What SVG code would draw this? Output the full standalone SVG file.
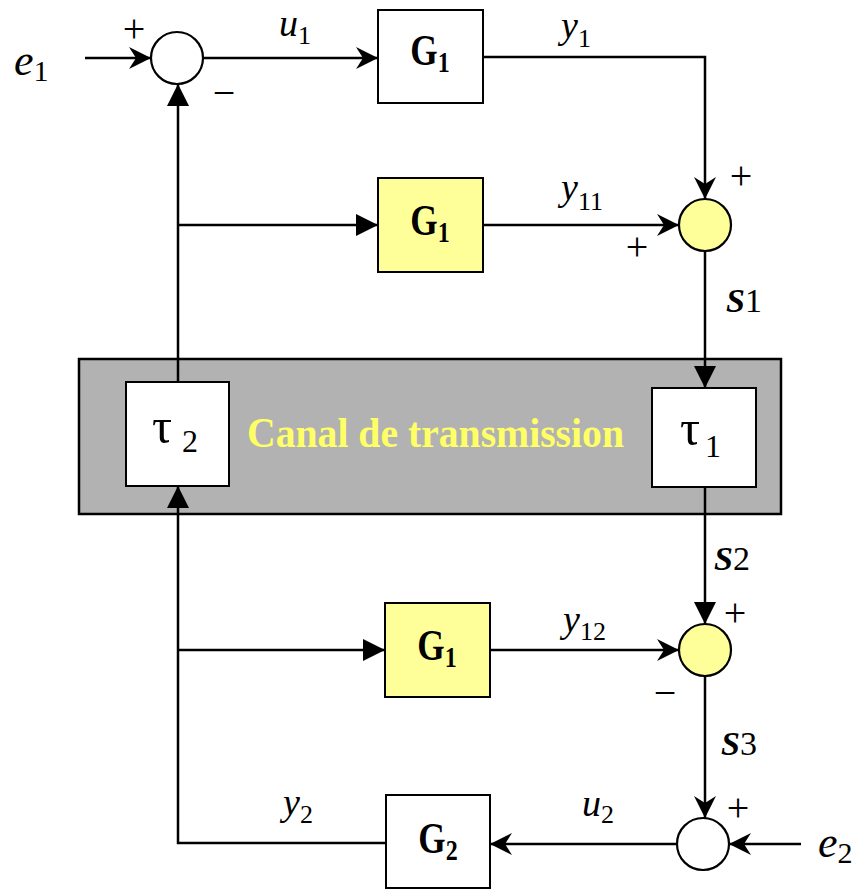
<svg xmlns="http://www.w3.org/2000/svg" width="852" height="890" viewBox="0 0 852 890">
<style>
.box{fill:#fff;stroke:#000;stroke-width:2}
.ybox{fill:#FFFF99;stroke:#000;stroke-width:2}
.sum{fill:#fff;stroke:#000;stroke-width:2.2}
.ysum{fill:#FFFF99;stroke:#000;stroke-width:2.2}
.wire{fill:none;stroke:#000;stroke-width:2.5}
.g{font-family:'Liberation Serif',serif;font-weight:bold;font-size:44px;fill:#000}
.gs{font-size:30px}
.v{font-family:'Liberation Serif',serif;font-style:italic;font-size:38px;fill:#000}
.vs{font-style:normal;font-size:26px}
.e{font-size:44px}
.es{font-style:normal;font-size:30px}
.s{font-family:'Liberation Serif',serif;font-style:italic;font-weight:bold;font-size:34px;fill:#000}
.ss{font-style:normal;font-weight:normal}
.sign{font-family:'Liberation Serif',serif;font-size:40px;fill:#000;text-anchor:middle}
.tau{font-family:'Liberation Serif',serif;font-size:50px;fill:#000}
.taus{font-size:32px}
.canal{font-family:'Liberation Serif',serif;font-weight:bold;font-size:43px;fill:#FFFF66}
</style>
<defs>
<marker id="st" viewBox="-24 -12 26 24" markerWidth="26" markerHeight="24" refX="0" refY="0" orient="auto" markerUnits="userSpaceOnUse">
<path d="M0,0 L-22,-11 L-15,0 L-22,11 Z" fill="#000"/>
</marker>
<marker id="tri" viewBox="-24 -12 26 24" markerWidth="26" markerHeight="24" refX="0" refY="0" orient="auto" markerUnits="userSpaceOnUse">
<path d="M0,0 L-22,-11 L-22,11 Z" fill="#000"/>
</marker>
</defs>

<g id="channel">
<rect x="79" y="359" width="702" height="155" fill="#B2B2B2" stroke="#000" stroke-width="2.5"/>
<text class="canal" x="247" y="447" textLength="377" lengthAdjust="spacingAndGlyphs">Canal de transmission</text>
</g>

<g id="connectors">
<path class="wire" d="M85,58 H151" marker-end="url(#st)"/>
<path class="wire" d="M203,58 H378" marker-end="url(#st)"/>
<path class="wire" d="M483,57 H705 V199" marker-end="url(#st)"/>
<path class="wire" d="M178,225 H378" marker-end="url(#tri)"/>
<path class="wire" d="M483,225 H679" marker-end="url(#st)"/>
<path class="wire" d="M705,251 V388" marker-end="url(#tri)"/>
<path class="wire" d="M178,382 V84" marker-end="url(#tri)"/>
<path class="wire" d="M705,487 V624" marker-end="url(#tri)"/>
<path class="wire" d="M178,650 H385" marker-end="url(#tri)"/>
<path class="wire" d="M490,650 H679" marker-end="url(#st)"/>
<path class="wire" d="M705,676 V818" marker-end="url(#st)"/>
<path class="wire" d="M801,844 H729" marker-end="url(#st)"/>
<path class="wire" d="M677,844 H490" marker-end="url(#st)"/>
<path class="wire" d="M386,843 H178 V486" marker-end="url(#tri)"/>
</g>

<g id="sum1">
<circle class="sum" cx="177" cy="58" r="26"/>
<text class="sign" x="134" y="42">+</text>
<text class="sign" x="224" y="106">−</text>
</g>

<g id="G1_top">
<rect class="box" x="378" y="10" width="105" height="93"/>
<text class="g" x="430" y="65" text-anchor="middle" transform="translate(430,0) scale(0.8,1) translate(-430,0)">G<tspan class="gs" dy="7">1</tspan></text>
</g>

<g id="G1_mid">
<rect class="ybox" x="378" y="178" width="105" height="94"/>
<text class="g" x="430" y="235" text-anchor="middle" transform="translate(430,0) scale(0.8,1) translate(-430,0)">G<tspan class="gs" dy="7">1</tspan></text>
</g>

<g id="sum2">
<circle class="ysum" cx="705" cy="225" r="26"/>
<text class="sign" x="741" y="189">+</text>
<text class="sign" x="637" y="260">+</text>
</g>

<g id="tau2">
<rect class="box" x="126" y="382" width="103" height="104"/>
<text class="tau" x="152" y="443">τ<tspan class="taus" x="182" y="452">2</tspan></text>
</g>

<g id="tau1">
<rect class="box" x="652" y="388" width="104" height="99"/>
<text class="tau" x="680" y="445">τ<tspan class="taus" x="705" y="457">1</tspan></text>
</g>

<g id="G1_bot">
<rect class="ybox" x="385" y="603" width="105" height="94"/>
<text class="g" x="437" y="660" text-anchor="middle" transform="translate(437,0) scale(0.8,1) translate(-437,0)">G<tspan class="gs" dy="7">1</tspan></text>
</g>

<g id="sum3">
<circle class="ysum" cx="705" cy="650" r="26"/>
<text class="sign" x="735" y="626">+</text>
<text class="sign" x="665" y="706">−</text>
</g>

<g id="sum4">
<circle class="sum" cx="703" cy="844" r="26"/>
<text class="sign" x="738" y="821">+</text>
</g>

<g id="G2">
<rect class="box" x="386" y="795" width="104" height="93"/>
<text class="g" x="438" y="853" text-anchor="middle" transform="translate(438,0) scale(0.8,1) translate(-438,0)">G<tspan class="gs" dy="7">2</tspan></text>
</g>

<g id="labels">
<text class="v e" x="14" y="75">e<tspan class="es" dy="6">1</tspan></text>
<text class="v" x="279" y="36">u<tspan class="vs" dy="8">1</tspan></text>
<text class="v" x="561" y="38">y<tspan class="vs" dy="9">1</tspan></text>
<text class="v" x="561" y="200">y<tspan class="vs" dy="10">11</tspan></text>
<text class="s" x="726" y="312">S<tspan class="ss">1</tspan></text>
<text class="s" x="714" y="570">S<tspan class="ss">2</tspan></text>
<text class="v" x="563" y="632">y<tspan class="vs" dy="8">12</tspan></text>
<text class="s" x="721" y="755">S<tspan class="ss">3</tspan></text>
<text class="v" x="582" y="816">u<tspan class="vs" dy="7">2</tspan></text>
<text class="v" x="283" y="815">y<tspan class="vs" dy="8">2</tspan></text>
<text class="v e" x="818" y="857">e<tspan class="es" dy="6">2</tspan></text>
</g>
</svg>
